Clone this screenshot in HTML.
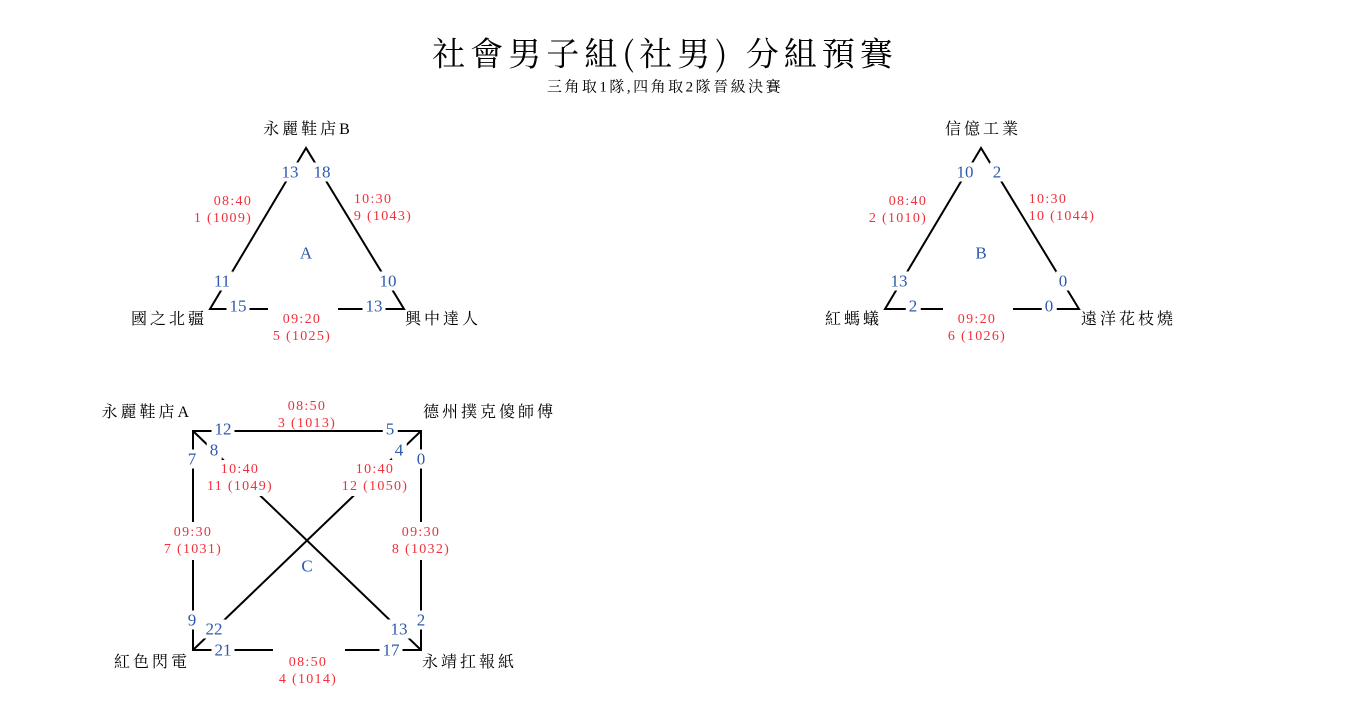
<!DOCTYPE html>
<html><head><meta charset="utf-8"><style>
html,body{margin:0;padding:0;background:#fff;}
#c{position:relative;width:1350px;height:720px;overflow:hidden;font-family:"Liberation Serif","Noto Serif CJK SC","Noto Serif CJK TC",serif;}
svg{position:absolute;left:0;top:0;}
.t{position:absolute;transform:translate(-50%,-50%);white-space:nowrap;line-height:1;}
.w{background:#fff;padding:1px 3px;}
.b{color:#2e5aac;font-size:17px;font-family:"Liberation Serif",serif;}
.r{color:#f0303a;font-size:14px;text-align:center;line-height:17px;letter-spacing:1.3px;}
.n{position:absolute;font-size:16px;color:#000;white-space:nowrap;line-height:1;transform:translateY(-50%);letter-spacing:3px;font-family:"Liberation Serif","Noto Serif CJK SC",serif;}
</style></head><body><div id="c">
<svg width="1350" height="720">
<g stroke="#000" stroke-width="2" fill="none">
<polygon points="306,148 210,309 404,309"/>
<polygon points="981,148 885,309 1079,309"/>
<rect x="193" y="431" width="228" height="219"/>
<line x1="193" y1="431" x2="421" y2="650"/>
<line x1="421" y1="431" x2="193" y2="650"/>
</g>
<g fill="#fff">
<rect x="268" y="304" width="70" height="10"/>
<rect x="943" y="304" width="70" height="10"/>
<rect x="273" y="645" width="72" height="10"/>
</g></svg>
<div class="t" style="left:665px;top:52px;font-size:33px;letter-spacing:5px;font-family:'Noto Serif CJK SC',serif;">社會男子組(社男) 分組預賽</div>
<div class="t" style="left:665px;top:88px;font-size:15px;letter-spacing:2.5px;">三角取1隊,四角取2隊晉級決賽</div>

<!-- A -->
<div class="t" style="left:308px;top:130px;font-size:16px;letter-spacing:3px;">永麗鞋店B</div>
<div class="t b w" style="left:290px;top:172px;">13</div>
<div class="t b w" style="left:322px;top:172px;">18</div>
<div class="t r" style="left:223px;top:210px;text-align:right;">08:40<br>1 (1009)</div>
<div class="t r" style="left:383px;top:208px;text-align:left;">10:30<br>9 (1043)</div>
<div class="t b" style="left:306px;top:253px;">A</div>
<div class="t b w" style="left:222px;top:281px;">11</div>
<div class="t b w" style="left:388px;top:281px;">10</div>
<div class="t b w" style="left:238px;top:306px;">15</div>
<div class="t b w" style="left:374px;top:306px;">13</div>
<div class="t r" style="left:302px;top:328px;">09:20<br>5 (1025)</div>
<div class="n" style="right:1143px;top:320px;">國之北疆</div>
<div class="n" style="left:405px;top:320px;">興中達人</div>

<!-- B -->
<div class="t" style="left:983px;top:130px;font-size:16px;letter-spacing:3px;">信億工業</div>
<div class="t b w" style="left:965px;top:172px;">10</div>
<div class="t b w" style="left:997px;top:172px;">2</div>
<div class="t r" style="left:898px;top:210px;text-align:right;">08:40<br>2 (1010)</div>
<div class="t r" style="left:1062px;top:208px;text-align:left;">10:30<br>10 (1044)</div>
<div class="t b" style="left:981px;top:253px;">B</div>
<div class="t b w" style="left:899px;top:281px;">13</div>
<div class="t b w" style="left:1063px;top:281px;">0</div>
<div class="t b w" style="left:913px;top:306px;">2</div>
<div class="t b w" style="left:1049px;top:306px;">0</div>
<div class="t r" style="left:977px;top:328px;">09:20<br>6 (1026)</div>
<div class="n" style="right:468px;top:320px;">紅螞蟻</div>
<div class="n" style="left:1081px;top:320px;">遠洋花枝燒</div>

<!-- C -->
<div class="n" style="right:1158px;top:413px;">永麗鞋店A</div>
<div class="n" style="left:423px;top:413px;">德州撲克傻師傅</div>
<div class="t r" style="left:307px;top:415px;">08:50<br>3 (1013)</div>
<div class="t b w" style="left:223px;top:429px;">12</div>
<div class="t b w" style="left:390px;top:429px;">5</div>
<div class="t b w" style="left:214px;top:450px;">8</div>
<div class="t b w" style="left:399px;top:450px;">4</div>
<div class="t b w" style="left:192px;top:459px;padding:1px 1px;">7</div>
<div class="t b w" style="left:421px;top:459px;padding:1px 1px;">0</div>
<div class="t r w" style="left:240px;top:478px;">10:40<br>11 (1049)</div>
<div class="t r w" style="left:375px;top:478px;">10:40<br>12 (1050)</div>
<div class="t r w" style="left:193px;top:541px;padding:2px 2px;">09:30<br>7 (1031)</div>
<div class="t r w" style="left:421px;top:541px;padding:2px 2px;">09:30<br>8 (1032)</div>
<div class="t b" style="left:307px;top:566px;">C</div>
<div class="t b w" style="left:192px;top:620px;padding:1px 1px;">9</div>
<div class="t b w" style="left:421px;top:620px;padding:1px 1px;">2</div>
<div class="t b w" style="left:214px;top:629px;">22</div>
<div class="t b w" style="left:399px;top:629px;">13</div>
<div class="t b w" style="left:223px;top:650px;">21</div>
<div class="t b w" style="left:391px;top:650px;">17</div>
<div class="t r" style="left:308px;top:671px;">08:50<br>4 (1014)</div>
<div class="n" style="right:1160px;top:663px;">紅色閃電</div>
<div class="n" style="left:422px;top:663px;">永靖扛報紙</div>
</div></body></html>
